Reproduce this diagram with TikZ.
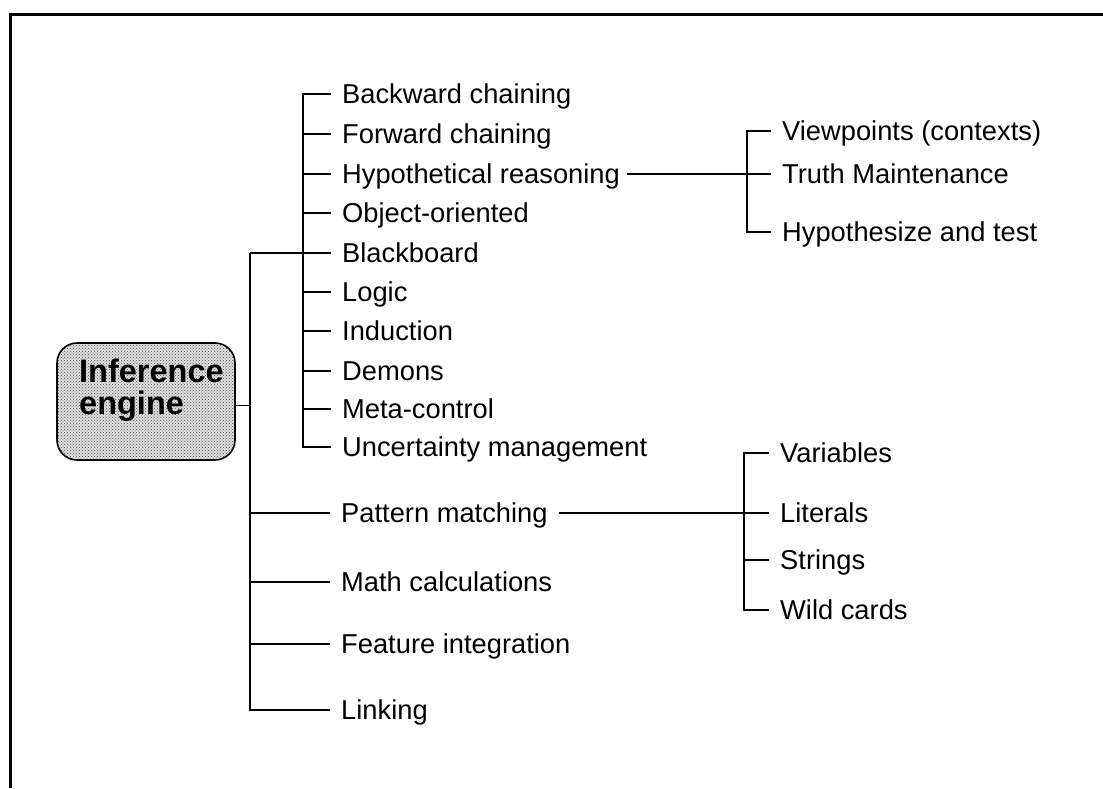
\documentclass[tikz,border=0pt]{standalone}
\usepackage{fontspec}
\setmainfont{Liberation Sans}
\usetikzlibrary{patterns}
\begin{document}
\begin{tikzpicture}[x=1pt,y=-1pt,
  wire/.style={line width=1.3pt},
  trunkline/.style={line width=1.6pt, line join=miter},
  leaf/.style={anchor=west, inner xsep=11pt, inner ysep=0pt,
    text height=19.3pt, text depth=0pt, font=\fontsize{27.3}{32}\selectfont},
  rootbox/.style={draw, line width=1.6pt, rounded corners=20pt,
    minimum width=178pt, minimum height=117pt, inner sep=0pt,
    preaction={fill=black!12}, pattern=crosshatch dots, pattern color=black!70}
]
\useasboundingbox (0,0) rectangle (1103,788);
% page frame (top and left rules)
\draw[line width=3pt] (10,788) -- (10,14) -- (1103,14);

% root
\node[rootbox] (root) at (146,401.5) {};
\node[anchor=north west, align=left, inner sep=0pt,
      font=\bfseries\fontsize{32.5}{32}\selectfont] (rootlabel) at (79,359) {Inference\\engine};

% trunk positions
\coordinate (t0) at (250,0);
\coordinate (t1) at (303,0);
\coordinate (t2) at (747,0);
\coordinate (t3) at (744,0);

% control strategies
\node[leaf] (bc) at (331,94)  {Backward chaining};
\node[leaf] (fc) at (331,134) {Forward chaining};
\node[leaf] (hr) at (331,174) {Hypothetical reasoning};
\node[leaf] (oo) at (331,213) {Object-oriented};
\node[leaf] (bb) at (331,253) {Blackboard};
\node[leaf] (lg) at (331,292) {Logic};
\node[leaf] (in) at (331,331) {Induction};
\node[leaf] (dm) at (331,371) {Demons};
\node[leaf] (mc) at (331,409) {Meta-control};
\node[leaf] (um) at (331,447) {Uncertainty management};

% other functions
\node[leaf] (pm) at (330,513) {Pattern matching};
\node[leaf] (ma) at (330,582) {Math calculations};
\node[leaf] (fi) at (330,644) {Feature integration};
\node[leaf] (lk) at (330,710) {Linking};

% hypothetical reasoning subtree
\node[leaf] (vp) at (771,131) {Viewpoints (contexts)};
\node[leaf] (tm) at (771,174) {Truth Maintenance};
\node[leaf] (ht) at (771,232) {Hypothesize and test};

% pattern matching subtree
\node[leaf] (va) at (769,453) {Variables};
\node[leaf] (li) at (769,513) {Literals};
\node[leaf] (st) at (769,560) {Strings};
\node[leaf] (wc) at (769,610) {Wild cards};

% root to main trunk
\draw[wire] ([yshift=-4pt]root.east) -- ([yshift=-4pt]root.east -| t0);
\draw[trunkline] (t0 |- bb.west) -- (t0 |- lk.west) -- (lk.west);
\draw[wire] (t0 |- bb.west) -- (bb.west);
\foreach \n in {pm,ma,fi} \draw[wire] (t0 |- \n.west) -- (\n.west);

% strategy trunk
\draw[trunkline] (bc.west) -- (t1 |- bc.west) -- (t1 |- um.west) -- (um.west);
\foreach \n in {fc,hr,oo,lg,in,dm,mc} \draw[wire] (t1 |- \n.west) -- (\n.west);

% hypothetical reasoning branch
\draw[wire] ([xshift=-4pt]hr.east) -- (tm.west);
\draw[trunkline] (vp.west) -- (t2 |- vp.west) -- (t2 |- ht.west) -- (ht.west);

% pattern matching branch
\draw[wire] (pm.east) -- (li.west);
\draw[trunkline] (va.west) -- (t3 |- va.west) -- (t3 |- wc.west) -- (wc.west);
\draw[wire] (t3 |- st.west) -- (st.west);
\end{tikzpicture}
\end{document}
